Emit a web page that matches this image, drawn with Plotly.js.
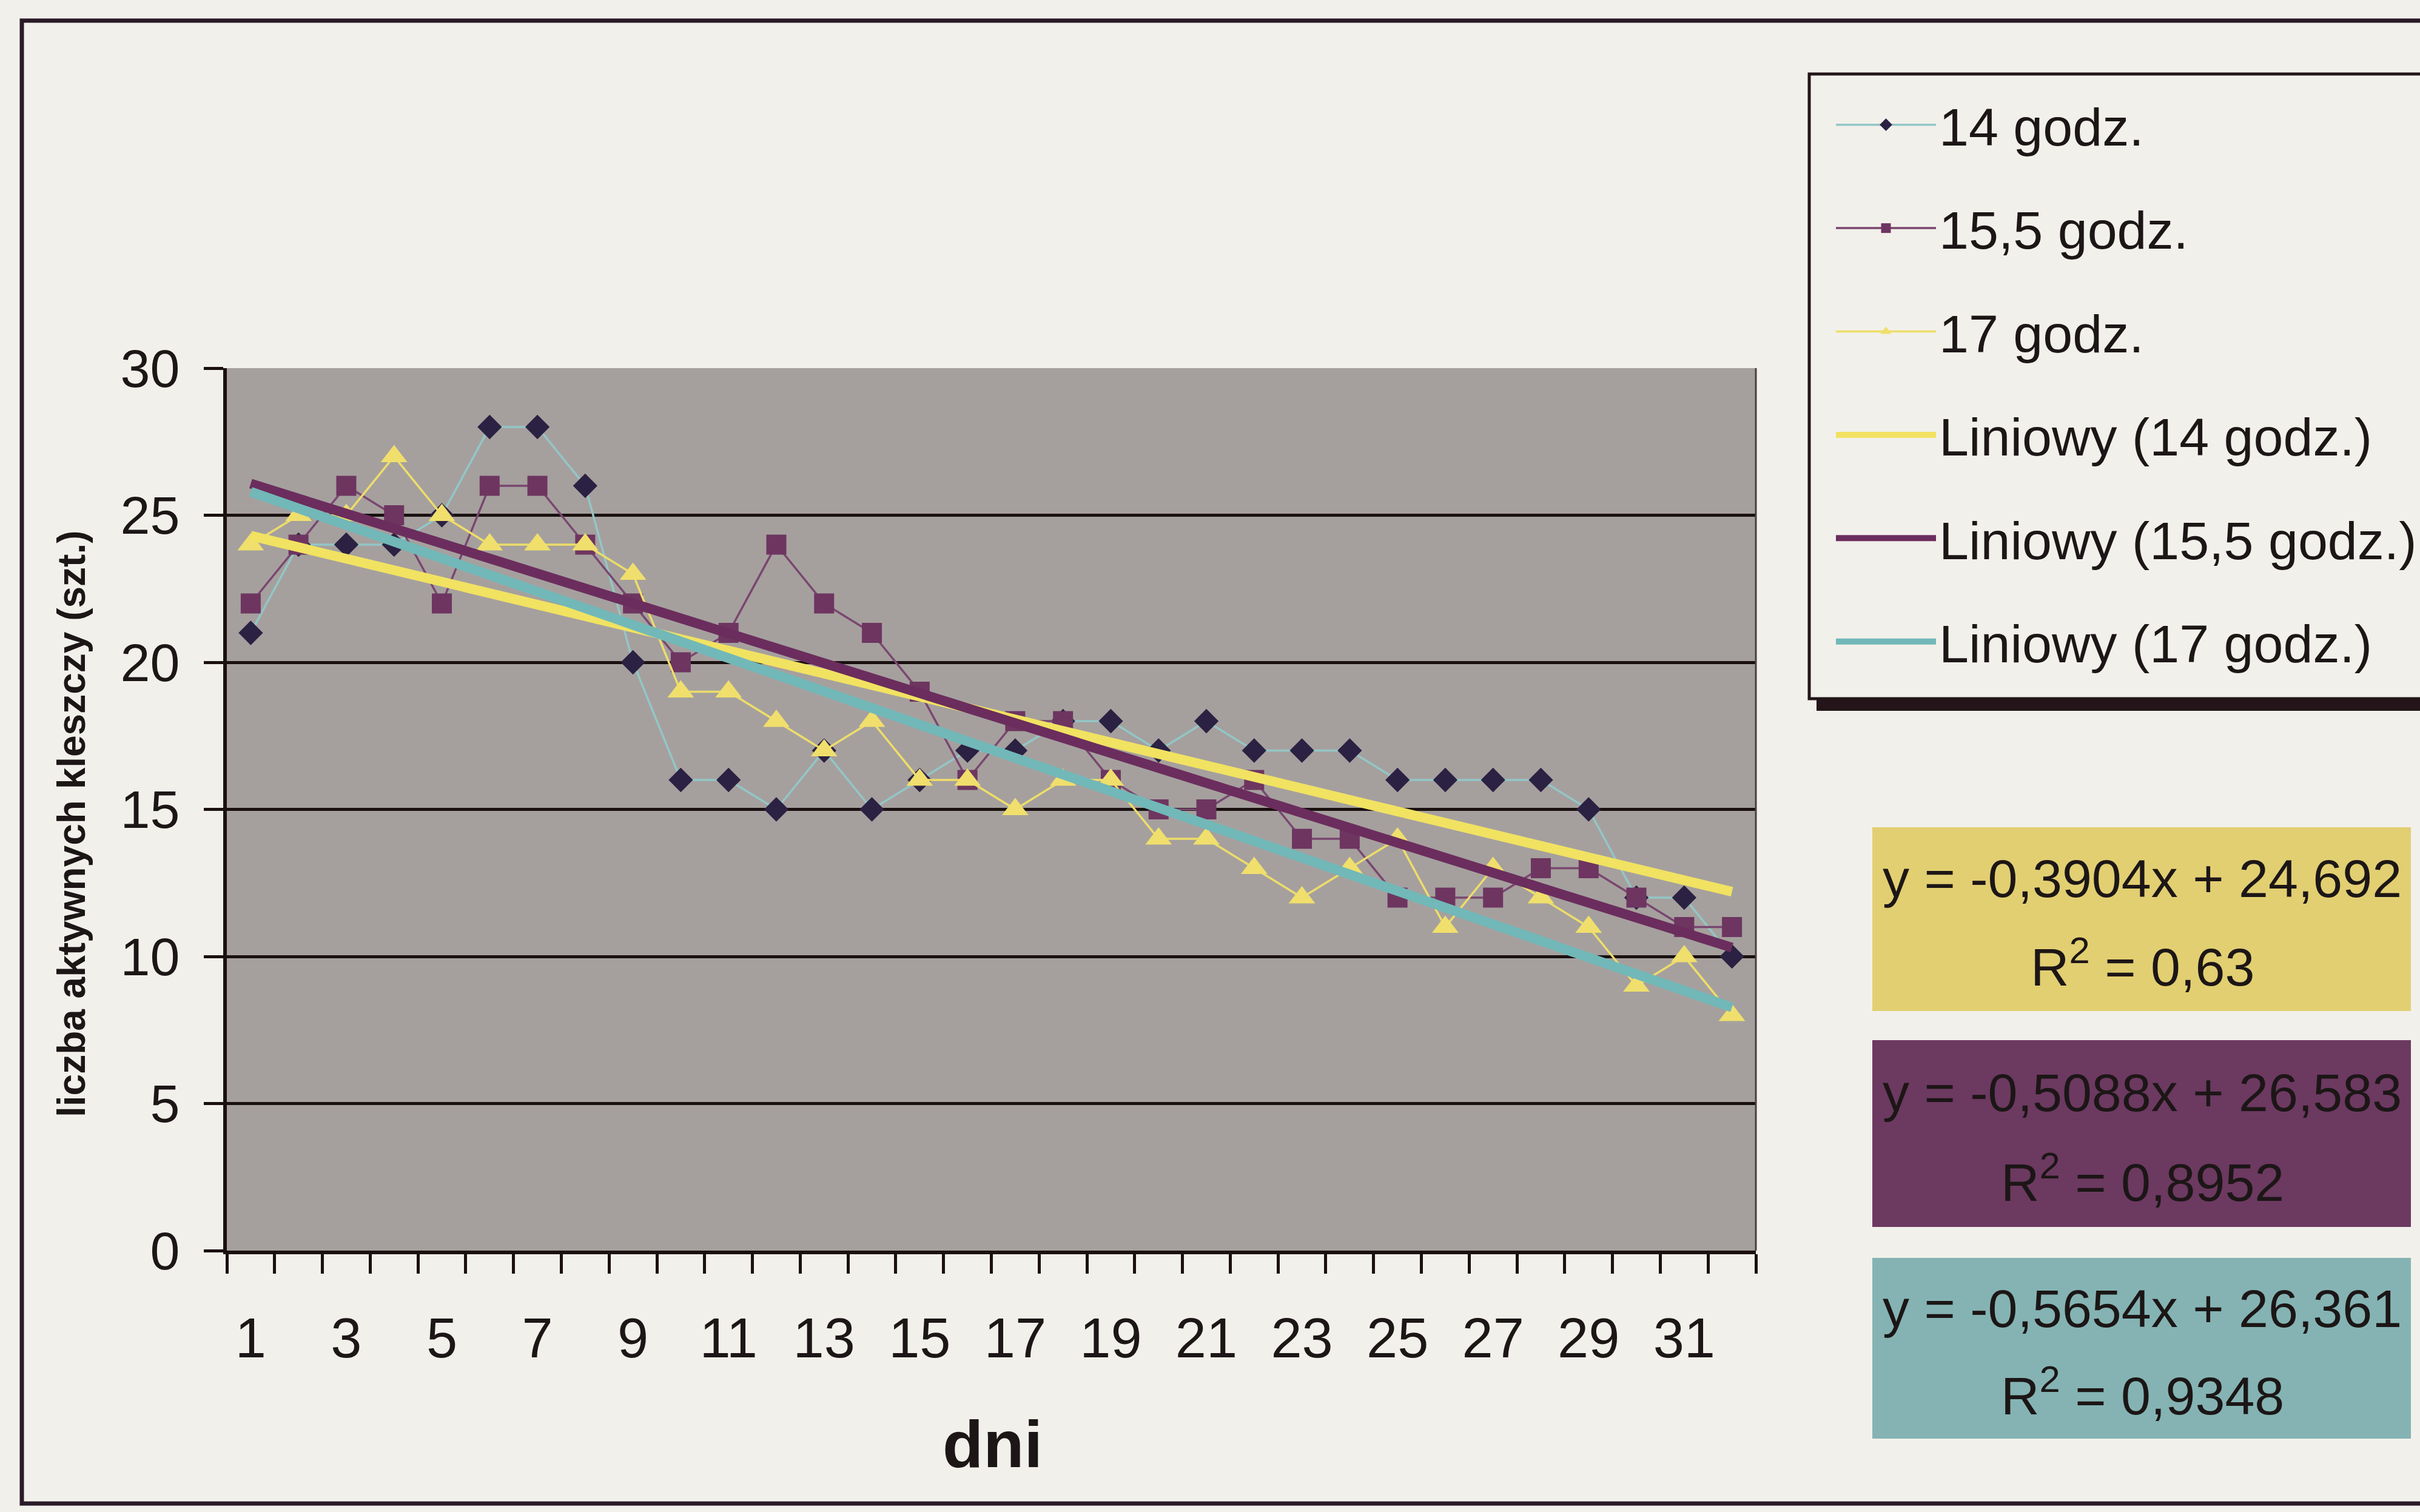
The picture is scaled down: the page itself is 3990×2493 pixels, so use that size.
<!DOCTYPE html>
<html><head><meta charset="utf-8">
<script src="https://cdn.plot.ly/plotly-3.0.1.min.js"></script>
<style>html,body{margin:0;padding:0;background:#f2f0eb;} #chart{width:3990px;height:2493px;}</style>
</head><body><div id="chart"></div>
<script>
// ---- data ----
const days = [1,2,3,4,5,6,7,8,9,10,11,12,13,14,15,16,17,18,19,20,21,22,23,24,25,26,27,28,29,30,31,32];
const labelDays = [1,3,5,7,9,11,13,15,17,19,21,23,25,27,29,31];
const seriesNames = ['14 godz.', '15,5 godz.', '17 godz.'];
const s14  = [21,24,24,24,25,28,28,26,20,16,16,15,17,15,16,17,17,18,18,17,18,17,17,17,16,16,16,16,15,12,12,10];
const s155 = [22,24,26,25,22,26,26,24,22,20,21,24,22,21,19,16,18,18,16,15,15,16,14,14,12,12,12,13,13,12,11,11];
const s17  = [24,25,25,27,25,24,24,24,23,19,19,18,17,18,16,16,15,16,16,14,14,13,12,13,14,11,13,12,11,9,10,8];
const trendSlopes = [-0.3904, -0.5088, -0.5654];
const trendIntercepts = [24.692, 26.583, 26.361];
const trendR2 = [0.63, 0.8952, 0.9348];
const yTicks = [0,5,10,15,20,25,30];

// ---- layout helpers (pixel -> paper) ----
const W = 3990, H = 2493;
const L = 374, R = 2895, T = 607, B = 2062;
const px = x => (x - L) / (R - L);
const py = y => (B - y) / (B - T);
const FONT = 'Liberation Sans, Arial, sans-serif';
const INK = '#1c1616';
const fmt = v => String(v).replace('.', ',');

const seriesData = [s14, s155, s17];
const markerSym = ['diamond', 'square', 'triangle-up'];
const markerCol = ['#2b2142', '#6e3560', '#f0df6c'];
const markerSize = [31, 33, 38];
const lineCol = ['#93c6c6', '#7a4670', '#eedd6a'];
const trendCol = ['#f1e262', '#6b2d5d', '#72b8b8'];
const boxCol = ['#e2cf72', '#6c3961', '#85b3b3'];

const traces = [];
seriesData.forEach((s, i) => {
  traces.push({
    x: days, y: s, type: 'scatter', mode: 'lines+markers', name: seriesNames[i],
    legendgroup: 'g' + i,
    line: {color: lineCol[i], width: 3.5},
    marker: {symbol: markerSym[i], size: markerSize[i], color: markerCol[i], line: {width: 0}}
  });
});
trendSlopes.forEach((a, i) => {
  traces.push({
    x: days, y: days.map(d => a * d + trendIntercepts[i]), type: 'scatter', mode: 'lines',
    name: 'Liniowy (' + seriesNames[i] + ')', legendgroup: 't' + i,
    line: {color: trendCol[i], width: 16}
  });
});

const shapes = [
  // outer chart border
  {type: 'rect', xref: 'paper', yref: 'paper', x0: px(36), x1: px(4150), y0: py(34), y1: py(2479),
   line: {color: '#2a1a28', width: 7}, fillcolor: 'rgba(0,0,0,0)', layer: 'below'},
  // plot area right edge
  {type: 'line', xref: 'paper', yref: 'paper', x0: 1, x1: 1, y0: 0, y1: 1, line: {color: '#4a3e44', width: 3}},
  // legend shadow + box
  {type: 'rect', xref: 'paper', yref: 'paper', x0: px(2995), x1: px(4150), y0: py(137), y1: py(1172),
   line: {width: 0}, fillcolor: '#231519'},
  {type: 'rect', xref: 'paper', yref: 'paper', x0: px(2983), x1: px(4140), y0: py(122), y1: py(1152),
   line: {color: '#231519', width: 5}, fillcolor: '#f2f0eb'}
];
const boxTops = [1364, 1715, 2074], boxBots = [1667, 2023, 2372];
const annotations = [
  {text: 'liczba aktywnych kleszczy (szt.)', xref: 'paper', yref: 'paper', x: px(118), y: py(1358),
   textangle: -90, showarrow: false, xanchor: 'center', yanchor: 'middle',
   font: {family: FONT, size: 64, color: INK, weight: 'bold'}},
  {text: '<b>dni</b>', xref: 'paper', yref: 'paper', x: px(1636), y: py(2380), showarrow: false,
   xanchor: 'center', yanchor: 'middle', font: {family: FONT, size: 110, color: INK}}
];
trendSlopes.forEach((a, i) => {
  shapes.push({type: 'rect', xref: 'paper', yref: 'paper', x0: px(3087), x1: px(3975),
    y0: py(boxTops[i]), y1: py(boxBots[i]), line: {width: 0}, fillcolor: boxCol[i]});
  const top = boxTops[i], h = boxBots[i] - boxTops[i];
  annotations.push({text: 'y = ' + fmt(a) + 'x + ' + fmt(trendIntercepts[i]), xref: 'paper', yref: 'paper',
    x: px(3532), y: py(top + h * 0.28), showarrow: false, xanchor: 'center', yanchor: 'middle',
    font: {family: FONT, size: 88, color: INK}});
  annotations.push({text: 'R<sup>2</sup> = ' + fmt(trendR2[i]), xref: 'paper', yref: 'paper',
    x: px(3532), y: py(top + h * 0.74), showarrow: false, xanchor: 'center', yanchor: 'middle',
    font: {family: FONT, size: 88, color: INK}});
});

const tickPos = days.map(d => d - 0.5).concat([days[days.length - 1] + 0.5]);
const layout = {
  width: W, height: H,
  paper_bgcolor: '#f2f0eb', plot_bgcolor: '#a5a09e',
  margin: {l: L, r: W - R, t: T, b: H - B, pad: 0, autoexpand: false},
  font: {family: FONT, color: INK},
  showlegend: true,
  legend: {x: px(3022), y: py(142), xanchor: 'left', yanchor: 'top', bgcolor: 'rgba(0,0,0,0)',
    borderwidth: 0, font: {family: FONT, size: 88, color: INK}, itemwidth: 165,
    traceorder: 'grouped', tracegroupgap: 53},
  xaxis: {range: [0.5, 32.5], tickmode: 'array', tickvals: labelDays, ticktext: labelDays.map(String),
    ticks: '', tickfont: {family: FONT, size: 92, color: INK}, ticklabelstandoff: 60,
    minor: {tickmode: 'array', tickvals: tickPos, ticks: 'outside', ticklen: 32, tickwidth: 5,
      tickcolor: '#1a1010', showgrid: false},
    showline: true, linewidth: 6, linecolor: '#1a1010', showgrid: false, zeroline: false},
  yaxis: {range: [0, 30], tickmode: 'array', tickvals: yTicks, ticks: 'outside', ticklen: 32, tickwidth: 5,
    tickcolor: '#1a1010', showline: true, linewidth: 6, linecolor: '#1a1010',
    showgrid: true, gridcolor: '#1a1010', gridwidth: 5, zeroline: false,
    tickfont: {family: FONT, size: 88, color: INK}, ticklabelstandoff: 22},
  shapes: shapes,
  annotations: annotations
};
Plotly.newPlot('chart', traces, layout, {staticPlot: true, displayModeBar: false});
</script></body></html>
